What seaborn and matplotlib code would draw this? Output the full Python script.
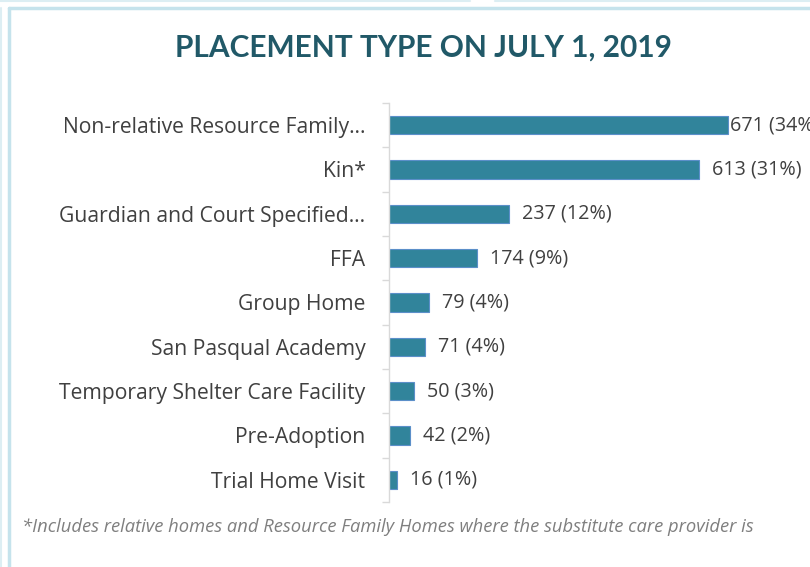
import matplotlib
matplotlib.use("Agg")
import matplotlib.pyplot as plt
import seaborn as sns
import pandas as pd
import numpy as np
from matplotlib.lines import Line2D

categories = ["Non-relative Resource Family…", "Kin*", "Guardian and Court Specified…",
              "FFA", "Group Home", "San Pasqual Academy", "Temporary Shelter Care Facility",
              "Pre-Adoption", "Trial Home Visit"]
counts = [671, 613, 237, 174, 79, 71, 50, 42, 16]
percents = [34, 31, 12, 9, 4, 4, 3, 2, 1]

df = pd.DataFrame({"category": categories, "count": counts})

sns.set_theme(style="white")
plt.rcParams['font.family'] = ['Open Sans', 'DejaVu Sans']

W, H = 810, 567
fig = plt.figure(figsize=(W/100, H/100), dpi=100)
ax = fig.add_axes([389/W, 1-502/H, (802-389)/W, (502-103)/H])

sns.barplot(data=df, y="category", x="count", ax=ax, orient="h",
            color="#31849B", edgecolor="#5B8FC9", linewidth=0.8, width=0.41,
            saturation=1)

ax.set_xlim(0, (802-389)/0.505)
ax.set_ylim(len(categories)-0.5, -0.5)
ax.set_xlabel("")
ax.set_ylabel("")
ax.set_xticks([])
for s in ["top", "right", "bottom"]:
    ax.spines[s].set_visible(False)
ax.spines["left"].set_color("#D9D9D9")
ax.spines["left"].set_linewidth(1.0)
ax.tick_params(axis="y", which="major", length=0, pad=17, labelsize=15.2, labelcolor="#404040")
ax.set_yticks(np.arange(-0.5, len(categories)), minor=True)
ax.tick_params(axis="y", which="minor", length=5, color="#D9D9D9", width=1.0, left=True)

for i, (c, p) in enumerate(zip(counts, percents)):
    gap = 5 if c == max(counts) else 26
    ax.text(c + gap, i, f"{c} ({p}%)", va="center", ha="left", fontsize=14.2,
            color="#404040", clip_on=False)

fig.text(0.5*(175+672)/W, 1-48/H, "PLACEMENT TYPE ON JULY 1, 2019", ha="center", va="center",
         fontsize=21.5, fontweight="bold", color="#215968", family=["Lato", "DejaVu Sans"])

fig.text(22/W, 1-527/H, "*Includes relative homes and Resource Family Homes where the substitute care provider is",
         ha="left", va="center", fontsize=13.2, style="italic", color="#7F7F7F")

# frame lines
fig.add_artist(Line2D([9/W, 9/W], [0, 1-8/H], color="#C5E3EC", lw=2.5, transform=fig.transFigure))
fig.add_artist(Line2D([9/W, 1], [1-8/H, 1-8/H], color="#C5E3EC", lw=2.5, transform=fig.transFigure))
fig.add_artist(Line2D([1/W, 1/W], [0, 1-8/H], color="#DCEEF3", lw=1.5, transform=fig.transFigure))
fig.add_artist(Line2D([0, 470/W], [1-1/H, 1-1/H], color="#DCEEF3", lw=1.5, transform=fig.transFigure))
fig.add_artist(Line2D([495/W, 1], [1-1/H, 1-1/H], color="#DCEEF3", lw=1.5, transform=fig.transFigure))

fig.savefig("out.png", dpi=100)
